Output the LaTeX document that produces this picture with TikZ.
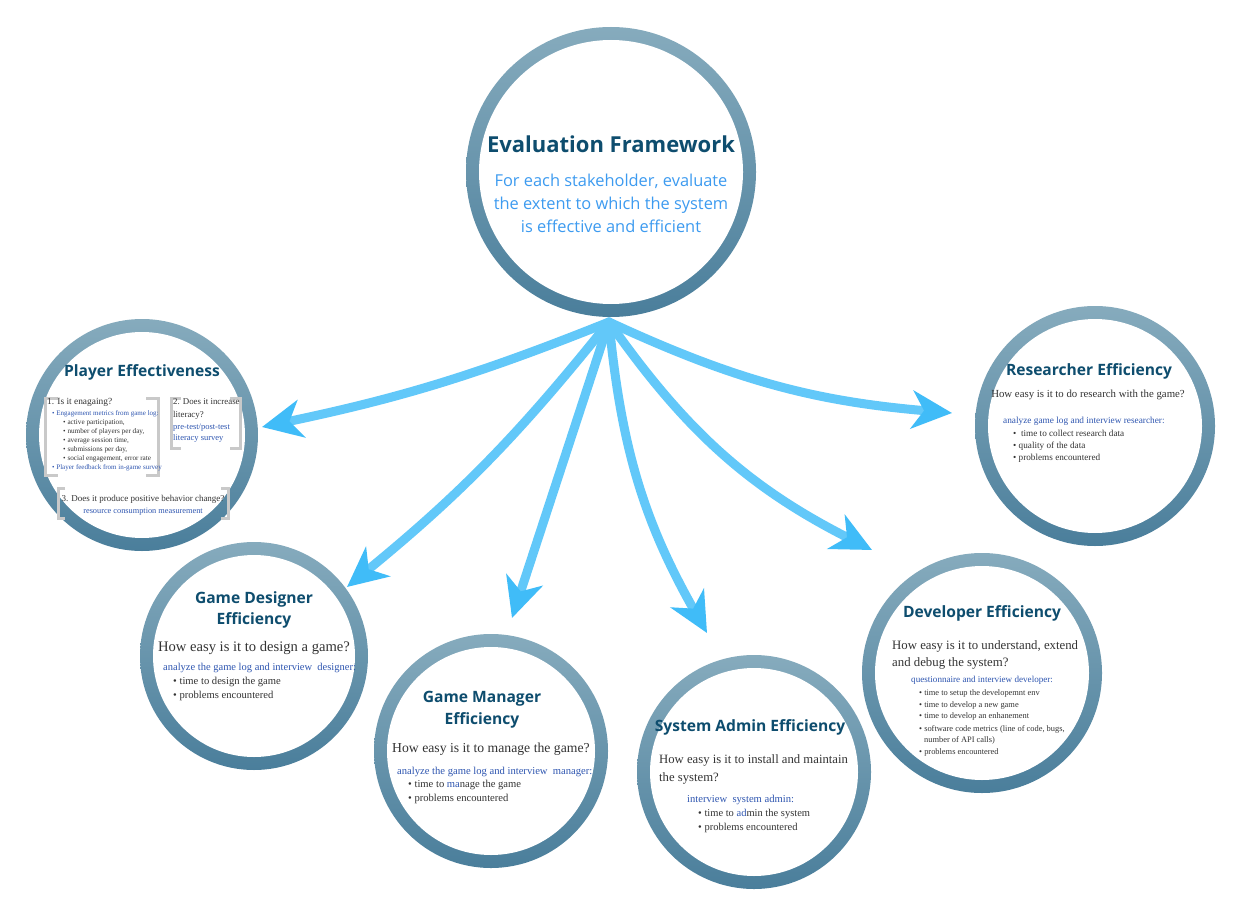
\documentclass[tikz,border=0pt]{standalone}
\usepackage{fontspec}
\setmainfont{Liberation Serif}
\newfontfamily\osans{Open Sans}
\usetikzlibrary{arrows.meta}
\definecolor{ringtop}{HTML}{86ABBD}
\definecolor{ringbot}{HTML}{4A7E9B}
\definecolor{titlec}{HTML}{0E4D6E}
\definecolor{subc}{HTML}{3D9BF0}
\definecolor{bluet}{HTML}{2E55B0}
\definecolor{bodyc}{HTML}{333333}
\definecolor{arrowc}{HTML}{62C8F9}
\definecolor{headc}{HTML}{40BCF8}
\definecolor{brk}{HTML}{C9C9C9}
\begin{document}
\begin{tikzpicture}[x=1pt,y=-1pt,
  ring/.style={circle, inner sep=0pt, minimum size=2*#1, top color=ringtop, bottom color=ringbot,
    path picture={\fill[white] (path picture bounding box.center) circle ({#1-13pt});}},
  arr/.style={line width=9pt, draw=arrowc, line cap=round,
    -{Stealth[length=40pt,width=38pt,inset=12pt,color=headc]}},
  ttl/.style={font=\osans\bfseries\fontsize{15.6}{18}\selectfont, text=titlec, inner sep=0pt, anchor=base},
  qq/.style={font=\fontsize{#1}{#1}\selectfont, text=bodyc, inner sep=0pt, anchor=base west},
  bb/.style={font=\fontsize{#1}{#1}\selectfont, text=bluet, inner sep=0pt, anchor=base west},
  brack/.style={draw=brk, line width=3pt}
]
\fill[white] (0,0) rectangle (1244,912);
\useasboundingbox (0,0) rectangle (1244,912);

% rings
\node[ring=145pt] (main) at (611,172) {};
\node[ring=116pt] (player) at (142,435) {};
\node[ring=120pt] (research) at (1095,426) {};
\node[ring=114pt] (designer) at (254,656) {};
\node[ring=117pt] (manager) at (491,751) {};
\node[ring=117pt] (admin) at (754,772) {};
\node[ring=120pt] (developer) at (982,673) {};

% arrows
\coordinate (hub) at (609,322);
\coordinate (tPlayer) at (262,427);
\coordinate (tDesigner) at (347,587);
\coordinate (tManager) at (512,618);
\coordinate (tAdmin) at (707,633);
\coordinate (tDev) at (872,550);
\coordinate (tRes) at (952,413);
\draw[arr] (hub) to[bend left=5] (tPlayer);
\draw[arr] (hub) to[bend left=6] (tDesigner);
\draw[arr] (hub) to (tManager);
\draw[arr] (hub) to[bend right=12] (tAdmin);
\draw[arr] (hub) to[bend right=14] (tDev);
\draw[arr] (hub) to[bend right=10] (tRes);

% main circle text
\node[font=\osans\bfseries\fontsize{22}{26}\selectfont, text=titlec, inner sep=0pt, anchor=base] (m1) at (611,153) {Evaluation Framework};
\node[font=\osans\fontsize{16.4}{19}\selectfont, text=subc, inner sep=0pt, anchor=base] (m2) at (611,187) {For each stakeholder, evaluate};
\node[font=\osans\fontsize{16.4}{19}\selectfont, text=subc, inner sep=0pt, anchor=base] (m3) at (611,209) {the extent to which the system};
\node[font=\osans\fontsize{16.4}{19}\selectfont, text=subc, inner sep=0pt, anchor=base] (m4) at (611,232) {is effective and efficient};

% player effectiveness
\node[ttl] (p0) at (142,376) {Player Effectiveness};
\draw[brack] (58,398) -- (45,398) -- (45,475) -- (58,475);
\draw[brack] (146,398) -- (158,398) -- (158,475) -- (146,475);
\draw[brack] (181,398) -- (171,398) -- (171,448) -- (181,448);
\draw[brack] (230,398) -- (240,398) -- (240,448) -- (230,448);
\draw[brack] (65,488) -- (58,488) -- (58,518) -- (65,518);
\draw[brack] (221,488) -- (228,488) -- (228,518) -- (221,518);
\node[qq=9.4] (p1) at (47,404) {1. Is it enagaing?};
\node[bb=7] (p2) at (52,415) {• Engagement metrics from game log:};
\node[qq=7.2] (p3) at (63,424) {• active participation,};
\node[qq=7.2] (p4) at (63,433) {• number of players per day,};
\node[qq=7.2] (p5) at (63,442) {• average session time,};
\node[qq=7.2] (p6) at (63,451) {• submissions per day,};
\node[qq=7.2] (p7) at (63,460) {• social engagement, error rate};
\node[bb=7] (p8) at (52,469) {• Player feedback from in-game survey};
\node[qq=8.9] (p9) at (173,404) {2. Does it increase};
\node[qq=8.9] (p10) at (173,417) {literacy?};
\node[bb=8.5] (p11) at (173,429) {pre-test/post-test};
\node[bb=8.5] (p12) at (173,440) {literacy survey};
\node[qq=9, anchor=base] (p13) at (143,501) {3. Does it produce positive behavior change?};
\node[bb=8.3, anchor=base] (p14) at (143,513) {resource consumption measurement};

% researcher
\node[ttl] (r0) at (1089,375) {Researcher Efficiency};
\node[qq=10.8, anchor=base] (r1) at (1088,397) {How easy is it to do research with the game?};
\node[bb=9.3] (r2) at (1003,423) {analyze game log and interview researcher:};
\node[qq=9.2] (r3) at (1013,436) {•\ \ time to collect research data};
\node[qq=9.2] (r4) at (1013,448) {• quality of the data};
\node[qq=9.2] (r5) at (1013,460) {• problems encountered};

% game designer
\node[ttl] (d0) at (254,603) {Game Designer};
\node[ttl] (d0b) at (254,624) {Efficiency};
\node[qq=14.6, anchor=base] (d1) at (254,651) {How easy is it to design a game?};
\node[bb=10.5] (d2) at (163,670) {analyze the game log and interview\ \ designer:};
\node[qq=10.6] (d3) at (173,684) {• time to design the game};
\node[qq=10.6] (d4) at (173,698) {• problems encountered};

% game manager
\node[ttl] (g0) at (482,702) {Game Manager};
\node[ttl] (g0b) at (482,724) {Efficiency};
\node[qq=13.7] (g1) at (392,752) {How easy is it to manage the game?};
\node[bb=10.6] (g2) at (397,774) {analyze the game log and interview\ \ manager:};
\node[qq=10.6] (g3) at (408,787) {• time to {\color{bluet}ma}nage the game};
\node[qq=10.6] (g4) at (408,801) {• problems encountered};

% system admin
\node[ttl] (a0) at (750,731) {System Admin Efficiency};
\node[qq=12.7] (a1) at (659,763) {How easy is it to install and maintain};
\node[qq=12.7] (a1b) at (659,781) {the system?};
\node[bb=10.6] (a2) at (687,802) {interview\ \ system admin:};
\node[qq=10.5] (a3) at (698,816) {• time to {\color{bluet}ad}min the system};
\node[qq=10.5] (a4) at (698,830) {• problems encountered};

% developer
\node[ttl] (v0) at (982,617) {Developer Efficiency};
\node[qq=12.8] (v1) at (892,649) {How easy is it to understand, extend};
\node[qq=12.8] (v1b) at (892,666) {and debug the system?};
\node[bb=9.1] (v2) at (911,682) {questionnaire and interview developer:};
\node[qq=8.4] (v3) at (919,695) {• time to setup the developemnt env};
\node[qq=8.4] (v4) at (919,707) {• time to develop a new game};
\node[qq=8.4] (v5) at (919,718) {• time to develop an enhanement};
\node[qq=8.4] (v6) at (919,731) {• software code metrics (line of code, bugs,};
\node[qq=8.4] (v7) at (924,742) {number of API calls)};
\node[qq=8.4] (v8) at (919,754) {• problems encountered};
\end{tikzpicture}
\end{document}
